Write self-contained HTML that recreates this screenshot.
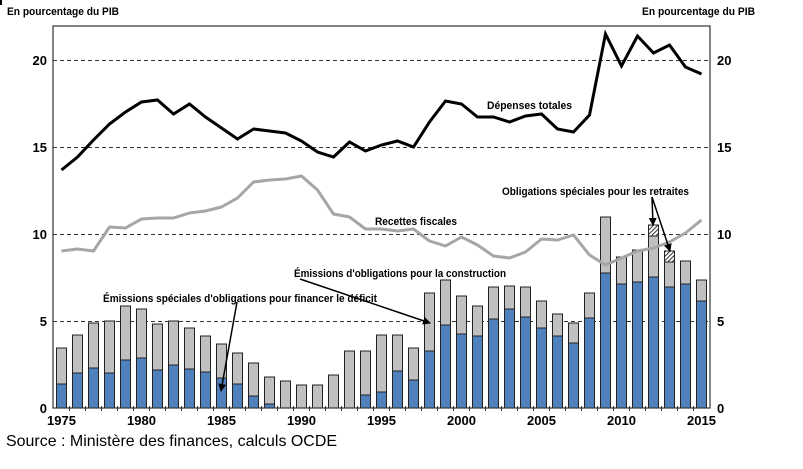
<!DOCTYPE html>
<html><head><meta charset="utf-8"><style>
html,body{margin:0;padding:0;background:#fff;}
svg{display:block;}
.t{font-family:"Liberation Sans",Arial,sans-serif;font-weight:bold;fill:#000;}
</style></head><body>
<svg width="803" height="469" viewBox="0 0 803 469" xmlns="http://www.w3.org/2000/svg">
<defs>
<pattern id="h" patternUnits="userSpaceOnUse" width="3" height="3" patternTransform="rotate(45)">
<rect width="3" height="3" fill="#fff"/><line x1="0" y1="0" x2="0" y2="3" stroke="#000" stroke-width="1.6"/>
</pattern>
<marker id="ar" markerWidth="8" markerHeight="8" refX="7" refY="4" orient="auto" markerUnits="userSpaceOnUse">
<path d="M0,0 L8,4 L0,8 Z" fill="#000"/>
</marker>
</defs>
<rect x="0" y="0" width="2" height="5" fill="#000"/>
<!-- gridlines -->
<g stroke="#333" stroke-width="1" stroke-dasharray="4 3">
<line x1="53" y1="60.5" x2="710" y2="60.5"/>
<line x1="53" y1="147.5" x2="710" y2="147.5"/>
<line x1="53" y1="234.5" x2="710" y2="234.5"/>
<line x1="53" y1="321.5" x2="710" y2="321.5"/>
</g>
<!-- bars gray (totals) -->
<g fill="#c0c0c0" stroke="#222" stroke-width="1">
<rect x="56.5" y="348" width="10" height="60"/>
<rect x="72.5" y="335" width="10" height="73"/>
<rect x="88.5" y="323" width="10" height="85"/>
<rect x="104.5" y="321" width="10" height="87"/>
<rect x="120.5" y="306" width="10" height="102"/>
<rect x="136.5" y="309" width="10" height="99"/>
<rect x="152.5" y="324" width="10" height="84"/>
<rect x="168.5" y="321" width="10" height="87"/>
<rect x="184.5" y="328" width="10" height="80"/>
<rect x="200.5" y="336" width="10" height="72"/>
<rect x="216.5" y="344" width="10" height="64"/>
<rect x="232.5" y="353" width="10" height="55"/>
<rect x="248.5" y="363" width="10" height="45"/>
<rect x="264.5" y="377" width="10" height="31"/>
<rect x="280.5" y="381" width="10" height="27"/>
<rect x="296.5" y="385" width="10" height="23"/>
<rect x="312.5" y="385" width="10" height="23"/>
<rect x="328.5" y="375" width="10" height="33"/>
<rect x="344.5" y="351" width="10" height="57"/>
<rect x="360.5" y="351" width="10" height="57"/>
<rect x="376.5" y="335" width="10" height="73"/>
<rect x="392.5" y="335" width="10" height="73"/>
<rect x="408.5" y="348" width="10" height="60"/>
<rect x="424.5" y="293" width="10" height="115"/>
<rect x="440.5" y="280" width="10" height="128"/>
<rect x="456.5" y="296" width="10" height="112"/>
<rect x="472.5" y="306" width="10" height="102"/>
<rect x="488.5" y="287" width="10" height="121"/>
<rect x="504.5" y="286" width="10" height="122"/>
<rect x="520.5" y="287" width="10" height="121"/>
<rect x="536.5" y="301" width="10" height="107"/>
<rect x="552.5" y="314" width="10" height="94"/>
<rect x="568.5" y="323" width="10" height="85"/>
<rect x="584.5" y="293" width="10" height="115"/>
<rect x="600.5" y="217" width="10" height="191"/>
<rect x="616.5" y="257" width="10" height="151"/>
<rect x="632.5" y="250" width="10" height="158"/>
<rect x="648.5" y="236" width="10" height="172"/>
<rect x="664.5" y="262" width="10" height="146"/>
<rect x="680.5" y="261" width="10" height="147"/>
<rect x="696.5" y="280" width="10" height="128"/>
</g>
<!-- hatched -->
<g fill="url(#h)" stroke="#222" stroke-width="1">
<rect x="648.5" y="225" width="10" height="11"/>
<rect x="664.5" y="251" width="10" height="11"/>
</g>
<!-- blue -->
<g fill="#4f81bd" stroke="#222" stroke-width="1">
<rect x="56.5" y="384" width="10" height="24"/>
<rect x="72.5" y="373" width="10" height="35"/>
<rect x="88.5" y="368" width="10" height="40"/>
<rect x="104.5" y="373" width="10" height="35"/>
<rect x="120.5" y="360" width="10" height="48"/>
<rect x="136.5" y="358" width="10" height="50"/>
<rect x="152.5" y="370" width="10" height="38"/>
<rect x="168.5" y="365" width="10" height="43"/>
<rect x="184.5" y="369" width="10" height="39"/>
<rect x="200.5" y="372" width="10" height="36"/>
<rect x="216.5" y="378" width="10" height="30"/>
<rect x="232.5" y="384" width="10" height="24"/>
<rect x="248.5" y="396" width="10" height="12"/>
<rect x="264.5" y="404" width="10" height="4"/>
<rect x="360.5" y="395" width="10" height="13"/>
<rect x="376.5" y="392" width="10" height="16"/>
<rect x="392.5" y="371" width="10" height="37"/>
<rect x="408.5" y="380" width="10" height="28"/>
<rect x="424.5" y="351" width="10" height="57"/>
<rect x="440.5" y="325" width="10" height="83"/>
<rect x="456.5" y="334" width="10" height="74"/>
<rect x="472.5" y="336" width="10" height="72"/>
<rect x="488.5" y="319" width="10" height="89"/>
<rect x="504.5" y="309" width="10" height="99"/>
<rect x="520.5" y="317" width="10" height="91"/>
<rect x="536.5" y="328" width="10" height="80"/>
<rect x="552.5" y="336" width="10" height="72"/>
<rect x="568.5" y="343" width="10" height="65"/>
<rect x="584.5" y="318" width="10" height="90"/>
<rect x="600.5" y="273" width="10" height="135"/>
<rect x="616.5" y="284" width="10" height="124"/>
<rect x="632.5" y="282" width="10" height="126"/>
<rect x="648.5" y="277" width="10" height="131"/>
<rect x="664.5" y="287" width="10" height="121"/>
<rect x="680.5" y="284" width="10" height="124"/>
<rect x="696.5" y="301" width="10" height="107"/>
</g>
<!-- frame -->
<rect x="53" y="26" width="657" height="382" fill="none" stroke="#333" stroke-width="1.2"/>
<!-- x ticks -->
<g stroke="#333" stroke-width="1">
<line x1="69.5" y1="406" x2="69.5" y2="411"/><line x1="85.5" y1="406" x2="85.5" y2="411"/><line x1="101.5" y1="406" x2="101.5" y2="411"/><line x1="117.5" y1="406" x2="117.5" y2="411"/><line x1="133.5" y1="406" x2="133.5" y2="411"/><line x1="149.5" y1="406" x2="149.5" y2="411"/><line x1="165.5" y1="406" x2="165.5" y2="411"/><line x1="181.5" y1="406" x2="181.5" y2="411"/><line x1="197.5" y1="406" x2="197.5" y2="411"/><line x1="213.5" y1="406" x2="213.5" y2="411"/><line x1="229.5" y1="406" x2="229.5" y2="411"/><line x1="245.5" y1="406" x2="245.5" y2="411"/><line x1="261.5" y1="406" x2="261.5" y2="411"/><line x1="277.5" y1="406" x2="277.5" y2="411"/><line x1="293.5" y1="406" x2="293.5" y2="411"/><line x1="309.5" y1="406" x2="309.5" y2="411"/><line x1="325.5" y1="406" x2="325.5" y2="411"/><line x1="341.5" y1="406" x2="341.5" y2="411"/><line x1="357.5" y1="406" x2="357.5" y2="411"/><line x1="373.5" y1="406" x2="373.5" y2="411"/><line x1="389.5" y1="406" x2="389.5" y2="411"/><line x1="405.5" y1="406" x2="405.5" y2="411"/><line x1="421.5" y1="406" x2="421.5" y2="411"/><line x1="437.5" y1="406" x2="437.5" y2="411"/><line x1="453.5" y1="406" x2="453.5" y2="411"/><line x1="469.5" y1="406" x2="469.5" y2="411"/><line x1="485.5" y1="406" x2="485.5" y2="411"/><line x1="501.5" y1="406" x2="501.5" y2="411"/><line x1="517.5" y1="406" x2="517.5" y2="411"/><line x1="533.5" y1="406" x2="533.5" y2="411"/><line x1="549.5" y1="406" x2="549.5" y2="411"/><line x1="565.5" y1="406" x2="565.5" y2="411"/><line x1="581.5" y1="406" x2="581.5" y2="411"/><line x1="597.5" y1="406" x2="597.5" y2="411"/><line x1="613.5" y1="406" x2="613.5" y2="411"/><line x1="629.5" y1="406" x2="629.5" y2="411"/><line x1="645.5" y1="406" x2="645.5" y2="411"/><line x1="661.5" y1="406" x2="661.5" y2="411"/><line x1="677.5" y1="406" x2="677.5" y2="411"/><line x1="693.5" y1="406" x2="693.5" y2="411"/>
</g>
<!-- lines -->
<polyline fill="none" stroke="#a6a6a6" stroke-width="3" stroke-linejoin="round" points="61.5,251 77.5,249 93.5,251 109.5,227 125.5,228 141.5,219 157.5,218 173.5,218 189.5,213 205.5,211 221.5,207 237.5,198 253.5,182 269.5,180 285.5,179 301.5,176 317.5,190 333.5,214 349.5,217 365.5,229 381.5,229 397.5,231 413.5,229 429.5,241 445.5,246 461.5,237 477.5,245 493.5,256 509.5,258 525.5,252 541.5,239 557.5,240 573.5,235 589.5,255 605.5,265 621.5,258 637.5,251 653.5,248 669.5,242 685.5,233 701.5,220"/>
<polyline fill="none" stroke="#000" stroke-width="3" stroke-linejoin="miter" points="61.5,170 77.5,157 93.5,140 109.5,124 125.5,112 141.5,102 157.5,100 173.5,114 189.5,104 205.5,117 221.5,128 237.5,139 253.5,129 269.5,131 285.5,133 301.5,141 317.5,152 333.5,157 349.5,142 365.5,151 381.5,145 397.5,141 413.5,147 429.5,122 445.5,101 461.5,104 477.5,117 493.5,117 509.5,122 525.5,116 541.5,114 557.5,129 573.5,132 589.5,115 605.5,34 621.5,66 637.5,36 653.5,53 669.5,45 685.5,67 701.5,74"/>
<!-- arrows -->
<g stroke="#000" stroke-width="1.5" fill="none">
<line x1="237" y1="302" x2="221" y2="391" marker-end="url(#ar)"/>
<line x1="300" y1="279" x2="430" y2="323" marker-end="url(#ar)"/>
<line x1="652" y1="197" x2="653" y2="225" marker-end="url(#ar)"/>
<line x1="652" y1="197" x2="670" y2="251" marker-end="url(#ar)"/>
</g>
<!-- axis labels -->
<text class="t" x="7" y="15" font-size="11" textLength="112" lengthAdjust="spacingAndGlyphs">En pourcentage du PIB</text>
<text class="t" x="642" y="15" font-size="11" textLength="113" lengthAdjust="spacingAndGlyphs">En pourcentage du PIB</text>
<g class="t" font-size="13" text-anchor="end">
<text class="t" x="47" y="65">20</text>
<text class="t" x="47" y="152">15</text>
<text class="t" x="47" y="239">10</text>
<text class="t" x="47" y="326">5</text>
<text class="t" x="47" y="413">0</text>
</g>
<g font-size="13">
<text class="t" x="717" y="65">20</text>
<text class="t" x="717" y="152">15</text>
<text class="t" x="717" y="239">10</text>
<text class="t" x="717" y="326">5</text>
<text class="t" x="717" y="413">0</text>
</g>
<g font-size="13" text-anchor="middle">
<text class="t" x="61.5" y="425">1975</text>
<text class="t" x="141.5" y="425">1980</text>
<text class="t" x="221.5" y="425">1985</text>
<text class="t" x="301.5" y="425">1990</text>
<text class="t" x="381.5" y="425">1995</text>
<text class="t" x="461.5" y="425">2000</text>
<text class="t" x="541.5" y="425">2005</text>
<text class="t" x="621.5" y="425">2010</text>
<text class="t" x="701.5" y="425">2015</text>
</g>
<!-- series labels -->
<text class="t" x="487" y="109" font-size="11" textLength="85" lengthAdjust="spacingAndGlyphs">Dépenses totales</text>
<text class="t" x="375" y="225" font-size="11" textLength="82" lengthAdjust="spacingAndGlyphs">Recettes fiscales</text>
<text class="t" x="502" y="195" font-size="11" textLength="187" lengthAdjust="spacingAndGlyphs">Obligations spéciales pour les retraites</text>
<text class="t" x="294" y="277" font-size="11" textLength="212" lengthAdjust="spacingAndGlyphs">Émissions d'obligations pour la construction</text>
<text class="t" x="103" y="302" font-size="11" textLength="274" lengthAdjust="spacingAndGlyphs">Émissions spéciales d'obligations pour financer le déficit</text>
<!-- source -->
<text x="6" y="446" font-family="'Liberation Sans',Arial,sans-serif" font-size="16" fill="#000" textLength="331" lengthAdjust="spacingAndGlyphs">Source : Ministère des finances, calculs OCDE</text>
</svg>
</body></html>
